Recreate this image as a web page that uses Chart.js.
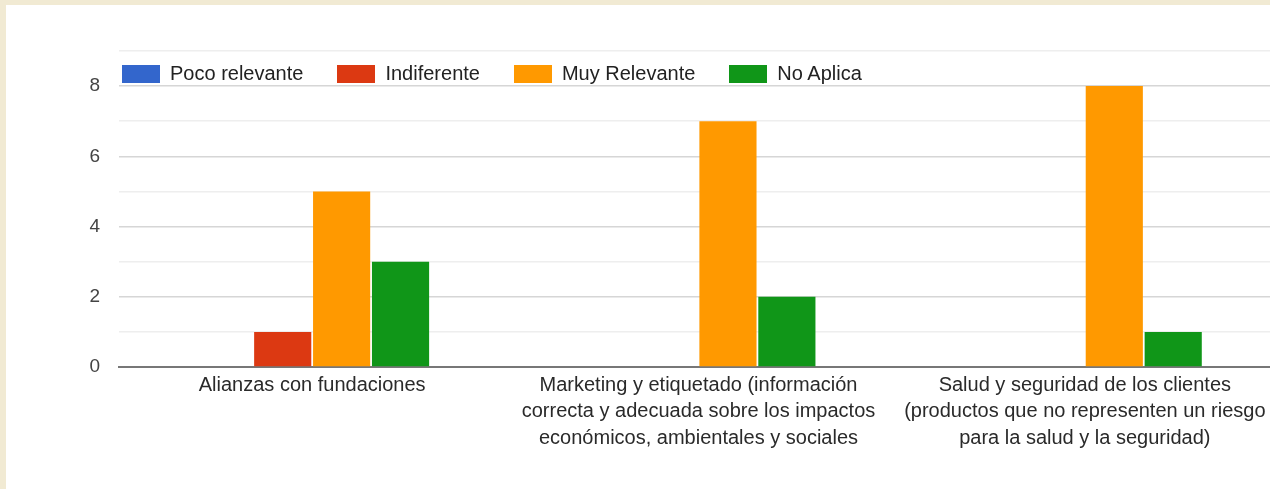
<!DOCTYPE html>
<html>
<head>
<meta charset="utf-8">
<script src="https://cdn.jsdelivr.net/npm/chart.js@4.4.1/dist/chart.umd.min.js"></script>
<style>
  html, body { margin: 0; padding: 0; }
  body { width: 1270px; height: 489px; overflow: hidden; background: #f1ead3; position: relative; }
  #panel { position: absolute; left: 6px; top: 5px; width: 1290px; height: 484px; background: #fff; }
  #wrap { position: absolute; left: 0; top: 0; width: 1272px; height: 484px; }
  #legend { position: absolute; left: 116px; top: 57px; display: flex; align-items: center;
            font-family: Arial, "Liberation Sans", sans-serif; font-size: 20px; color: #222; }
  #legend .item { display: flex; align-items: center; margin-right: 34px; }
  #legend .box { width: 38px; height: 18px; margin-right: 10px; }
</style>
</head>
<body>
<div id="panel">
  <div id="wrap"><canvas id="myBarChart"></canvas></div>
  <div id="legend"></div>
</div>
<script>
// categories (multi-line labels)
const categories = [
    ['Alianzas con fundaciones'],
    ['Marketing y etiquetado (información', 'correcta y adecuada sobre los impactos', 'económicos, ambientales y sociales'],
    ['Salud y seguridad de los clientes', '(productos que no representen un riesgo', 'para la salud y la seguridad)']
];

// series values
const pocoRelevante = [0, 0, 0];
const indiferente   = [1, 0, 0];
const muyRelevante  = [5, 7, 8];
const noAplica      = [3, 2, 1];

const seriesNames  = ['Poco relevante', 'Indiferente', 'Muy Relevante', 'No Aplica'];
const seriesColors = ['#3366cc', '#dc3912', '#ff9900', '#109618'];

const chartData = {
    labels: categories,
    datasets: [pocoRelevante, indiferente, muyRelevante, noAplica].map((d, i) => ({
        label: seriesNames[i],
        data: d,
        backgroundColor: seriesColors[i],
        categoryPercentage: 0.61,
        barPercentage: 0.97
    }))
};

// legend drawn as html on top of the plot area
const legendEl = document.getElementById('legend');
seriesNames.forEach((name, i) => {
    const item = document.createElement('div');
    item.className = 'item';
    item.innerHTML = '<span class="box" style="background:' + seriesColors[i] + '"></span><span>' + name + '</span>';
    legendEl.appendChild(item);
});

const config = {
    type: 'bar',
    data: chartData,
    options: {
        responsive: true,
        maintainAspectRatio: false,
        animation: false,
        layout: { padding: { top: 46, right: 0, bottom: 0, left: 0 } },
        plugins: {
            legend: { display: false },
            tooltip: { enabled: false }
        },
        scales: {
            x: {
                grid: { display: false },
                border: { color: '#777', width: 2 },
                ticks: {
                    color: '#2a2a2a',
                    padding: -3,
                    maxRotation: 0,
                    autoSkip: false,
                    font: { family: 'Arial, "Liberation Sans", sans-serif', size: 20, lineHeight: 1.32 }
                },
                afterFit: function (scale) { scale.height = 122; }
            },
            y: {
                min: 0,
                max: 9,
                border: { display: false },
                grid: {
                    drawTicks: false,
                    lineWidth: 1.5,
                    color: ctx => (ctx.tick && ctx.tick.value % 2 === 0) ? '#d6d6d6' : '#eeeeee'
                },
                ticks: {
                    stepSize: 1,
                    autoSkip: false,
                    color: '#444',
                    padding: 19,
                    font: { family: 'Arial, "Liberation Sans", sans-serif', size: 19 },
                    callback: v => (v % 2 === 0 && v < 9) ? v : ''
                },
                afterFit: function (scale) { scale.width = 113; }
            }
        }
    }
};

const ctx = document.getElementById('myBarChart').getContext('2d');
const myChart = new Chart(ctx, config);
</script>
</body>
</html>
